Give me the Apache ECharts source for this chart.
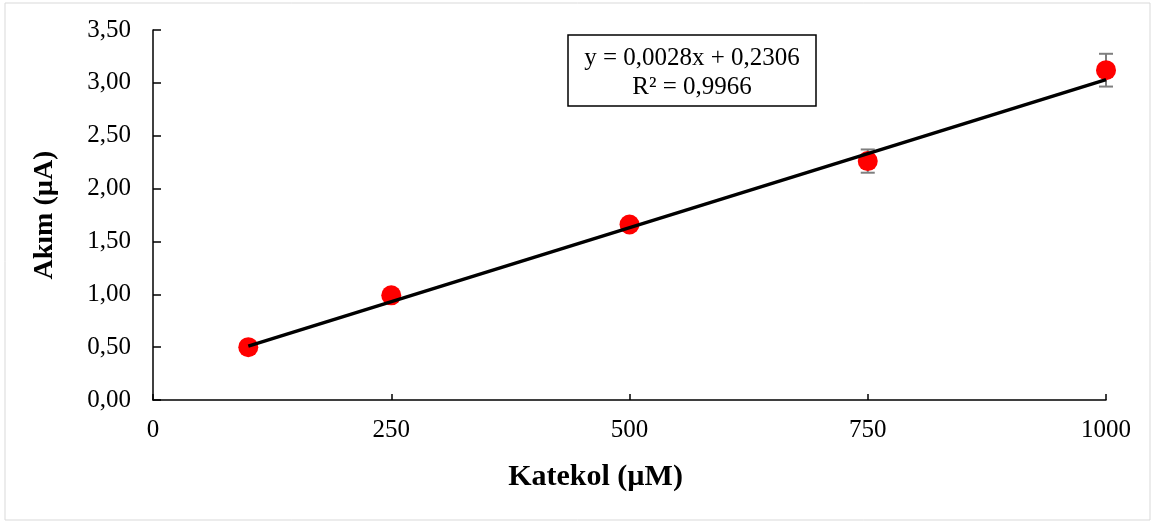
<!DOCTYPE html>
<html>
<head>
<meta charset="utf-8">
<script src="https://cdn.jsdelivr.net/npm/echarts@6/dist/echarts.min.js"></script>
<style>
html,body{margin:0;padding:0;background:#fff;}
#chart{width:1156px;height:524px;}
</style>
</head>
<body>
<div id="chart"></div>
<script>
const concentrations = [100, 250, 500, 750, 1000];
const currents = [0.50, 0.99, 1.66, 2.26, 3.12];
const errors = [0.02, 0.02, 0.03, 0.11, 0.155];
const trendX = [100, 1000];
const trendY = [0.51, 3.03];
const xTicks = [0, 250, 500, 750, 1000];
const yTicks = [0, 0.5, 1, 1.5, 2, 2.5, 3, 3.5];
const equationLines = ['y = 0,0028x + 0,2306', 'R² = 0,9966'];

const font = '"Liberation Serif", "Times New Roman", serif';
const chart = echarts.init(document.getElementById('chart'));

const pts = concentrations.map((x, i) => [x, currents[i]]);
const errData = concentrations.map((x, i) => [x, currents[i] - errors[i], currents[i] + errors[i]]);
const trend = trendX.map((x, i) => [x, trendY[i]]);

chart.setOption({
  animation: false,
  backgroundColor: '#fff',
  grid: { left: 153, right: 50, top: 30, bottom: 124 },
  graphic: [
    { type: 'rect', shape: { x: 5, y: 3, width: 1145, height: 517 },
      style: { fill: 'none', stroke: '#d9d9d9', lineWidth: 1 }, silent: true, z: -10 },
    { type: 'rect', shape: { x: 568, y: 35, width: 248, height: 71 }, z: 100,
      style: { fill: '#fff', stroke: '#000', lineWidth: 1.5 } },
    { type: 'text', x: 692, y: 58, z: 101,
      style: { text: equationLines[0], font: '25px ' + font, fill: '#000',
        textAlign: 'center', textVerticalAlign: 'middle' } },
    { type: 'text', x: 692, y: 87, z: 101,
      style: { text: equationLines[1], font: '25px ' + font, fill: '#000',
        textAlign: 'center', textVerticalAlign: 'middle' } }
  ],
  xAxis: {
    type: 'value', min: 0, max: 1000, interval: 250,
    name: 'Katekol (µM)', nameLocation: 'middle', nameGap: 62,
    nameTextStyle: { fontFamily: font, fontSize: 30, fontWeight: 'bold', color: '#000', padding: [0, 68, 0, 0] },
    axisLine: { lineStyle: { color: '#000', width: 1.5 } },
    axisTick: { show: true, inside: true, length: 6, lineStyle: { color: '#000', width: 1.5 } },
    axisLabel: { fontFamily: font, fontSize: 25, color: '#000', margin: 18,
      formatter: v => xTicks.includes(v) ? String(v) : '' },
    splitLine: { show: false }
  },
  yAxis: {
    type: 'value', min: 0, max: 3.5, interval: 0.5,
    name: 'Akım (µA)', nameLocation: 'middle', nameGap: 94, nameRotate: 90,
    nameTextStyle: { fontFamily: font, fontSize: 28, fontWeight: 'bold', color: '#000' },
    axisLine: { show: true, lineStyle: { color: '#000', width: 1.5 } },
    axisTick: { show: true, inside: true, length: 8, lineStyle: { color: '#000', width: 1.5 } },
    axisLabel: { fontFamily: font, fontSize: 25, color: '#000', margin: 22,
      formatter: v => yTicks.some(t => Math.abs(t - v) < 1e-9) ? v.toFixed(2).replace('.', ',') : '' },
    splitLine: { show: false }
  },
  series: [
    {
      type: 'custom', z: 1,
      renderItem: function (params, api) {
        const x = api.value(0);
        const lo = api.coord([x, api.value(1)]);
        const hi = api.coord([x, api.value(2)]);
        const w = 7;
        const st = { stroke: '#7f7f7f', lineWidth: 2 };
        return { type: 'group', children: [
          { type: 'line', shape: { x1: lo[0], y1: lo[1], x2: hi[0], y2: hi[1] }, style: st },
          { type: 'line', shape: { x1: lo[0] - w, y1: lo[1], x2: lo[0] + w, y2: lo[1] }, style: st },
          { type: 'line', shape: { x1: hi[0] - w, y1: hi[1], x2: hi[0] + w, y2: hi[1] }, style: st }
        ]};
      },
      encode: { x: 0, y: [1, 2] },
      data: errData
    },
    {
      type: 'scatter', z: 2, symbol: 'circle', symbolSize: 20,
      itemStyle: { color: '#ff0000', opacity: 1 },
      data: pts
    },
    {
      type: 'line', z: 3, symbol: 'none',
      lineStyle: { color: '#000', width: 3.5 },
      data: trend
    }
  ]
});
</script>
</body>
</html>
